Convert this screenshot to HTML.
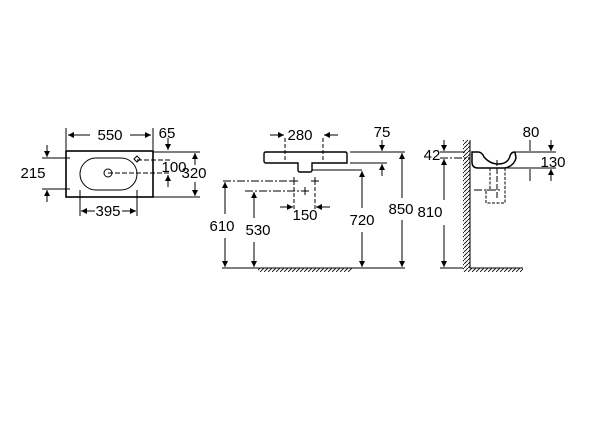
<!DOCTYPE html>
<html><head><meta charset="utf-8"><style>
html,body{margin:0;padding:0;background:#fff;}
svg text{font-family:"Liberation Sans",sans-serif;font-size:15px;fill:#000;}
</style></head><body>
<svg width="600" height="441" viewBox="0 0 600 441" xmlns="http://www.w3.org/2000/svg">
<defs>
<marker id="a" viewBox="0 0 10 10" refX="10" refY="5" markerWidth="8" markerHeight="6" orient="auto-start-reverse" markerUnits="userSpaceOnUse"><path d="M0,0L10,5L0,10z" fill="#000"/></marker>
<pattern id="h" width="4" height="4" patternUnits="userSpaceOnUse"><path d="M-1,5L5,-1" stroke="#000" stroke-width="0.8"/></pattern>
</defs>
<g stroke="#000" fill="none" stroke-width="1">
<!-- LEFT VIEW -->
<rect x="66" y="151" width="87" height="46" stroke-width="1.6"/>
<rect x="80" y="158" width="57" height="32" rx="16" stroke-width="1"/>
<circle cx="108" cy="173" r="4"/>
<path d="M66,128V150M153,128V150"/>
<path d="M90,135L68,135" marker-end="url(#a)"/>
<path d="M130,135H151" marker-end="url(#a)"/>
<path d="M137,160H170M108,173H170" stroke-dasharray="5,2"/>
<path d="M153,152H200M153,197H200"/>
<path d="M168,138V150" marker-end="url(#a)"/>
<path d="M168,187V175" marker-end="url(#a)"/>
<path d="M195,165V153" marker-end="url(#a)"/>
<path d="M195,182V196" marker-end="url(#a)"/>
<path d="M42,158H70M42,189H70"/>
<path d="M47,145V157" marker-end="url(#a)"/>
<path d="M47,202V190" marker-end="url(#a)"/>
<path d="M80,190V216M137,190V216"/>
<path d="M95,211H81" marker-end="url(#a)"/>
<path d="M122,211H136" marker-end="url(#a)"/>
<path d="M134,159l3,-3l3,3l-3,3z"/>
<!-- MIDDLE VIEW -->
<path d="M266,152H345Q347,152 347,154V163H312V170Q312,172 310,172H300Q298,172 298,170V163H266Q264,163 264,161V154Q264,152 266,152Z" stroke-width="1.4"/>
<path d="M285,138V160M323,138V160" stroke-dasharray="4,2"/>
<path d="M270,135H284" marker-end="url(#a)"/>
<path d="M338,135H324" marker-end="url(#a)"/>
<path d="M350,152H405M350,163H387"/>
<path d="M382,140V151" marker-end="url(#a)"/>
<path d="M382,176V164" marker-end="url(#a)"/>
<path d="M402,198V153" marker-end="url(#a)"/>
<path d="M402,220V267" marker-end="url(#a)"/>
<path d="M312,170H362"/>
<path d="M362,208V171" marker-end="url(#a)"/>
<path d="M362,232V267" marker-end="url(#a)"/>
<path d="M223,181H296M245,191H306" stroke-dasharray="8,2,2,2"/>
<path d="M225,214V182" marker-end="url(#a)"/>
<path d="M225,238V267" marker-end="url(#a)"/>
<path d="M254,218V192" marker-end="url(#a)"/>
<path d="M254,242V267" marker-end="url(#a)"/>
<path d="M294,181V210M315,181V210" stroke-dasharray="4,2"/>
<path d="M280,207H293" marker-end="url(#a)"/>
<path d="M330,207H316" marker-end="url(#a)"/>
<path d="M290,181h8M294,177v8M311,181h8M315,177v8M301,191h8M305,187v8"/>
<path d="M222,268H405"/>
<rect x="258" y="268" width="94" height="4" fill="url(#h)" stroke="none"/>
<!-- RIGHT VIEW -->
<rect x="463" y="140" width="7" height="132" fill="url(#h)" stroke="none"/>
<path d="M470,140V268H523"/>
<rect x="470" y="268" width="53" height="4" fill="url(#h)" stroke="none"/>
<path d="M472,152H478Q482,152 484,157Q490,164 498,164Q508,164 510,156Q511,152 515,152L516,158Q514,166 505,168H478Q472,168 472,162Z" stroke-width="1.5" fill="#fff"/>
<path d="M490,168V190H486V203H505V168" stroke-dasharray="3,1.5"/>
<path d="M440,152H465M516,152H556M505,168H556"/>
<path d="M440,158H470M474,190H500" stroke-dasharray="8,2,2,2"/>
<path d="M497,160V200" stroke-dasharray="6,2"/>
<path d="M444,140V151" marker-end="url(#a)"/>
<path d="M444,200V159" marker-end="url(#a)"/>
<path d="M444,225V267" marker-end="url(#a)"/>
<path d="M440,268H463"/>
<path d="M530,140V151M551,140V151" marker-end="url(#a)"/>
<path d="M530,181V169M551,181V169" marker-end="url(#a)"/>
</g>
<g text-anchor="middle">
<text x="110" y="140">550</text>
<text x="167" y="138">65</text>
<text x="174" y="172">100</text>
<text x="194" y="178">320</text>
<text x="33" y="178">215</text>
<text x="108" y="216">395</text>
<text x="300" y="140">280</text>
<text x="382" y="137">75</text>
<text x="401" y="214">850</text>
<text x="362" y="225">720</text>
<text x="222" y="231">610</text>
<text x="258" y="235">530</text>
<text x="305" y="220">150</text>
<text x="432" y="160">42</text>
<text x="430" y="217">810</text>
<text x="531" y="137">80</text>
<text x="553" y="167">130</text>
</g>
</svg>
</body></html>
